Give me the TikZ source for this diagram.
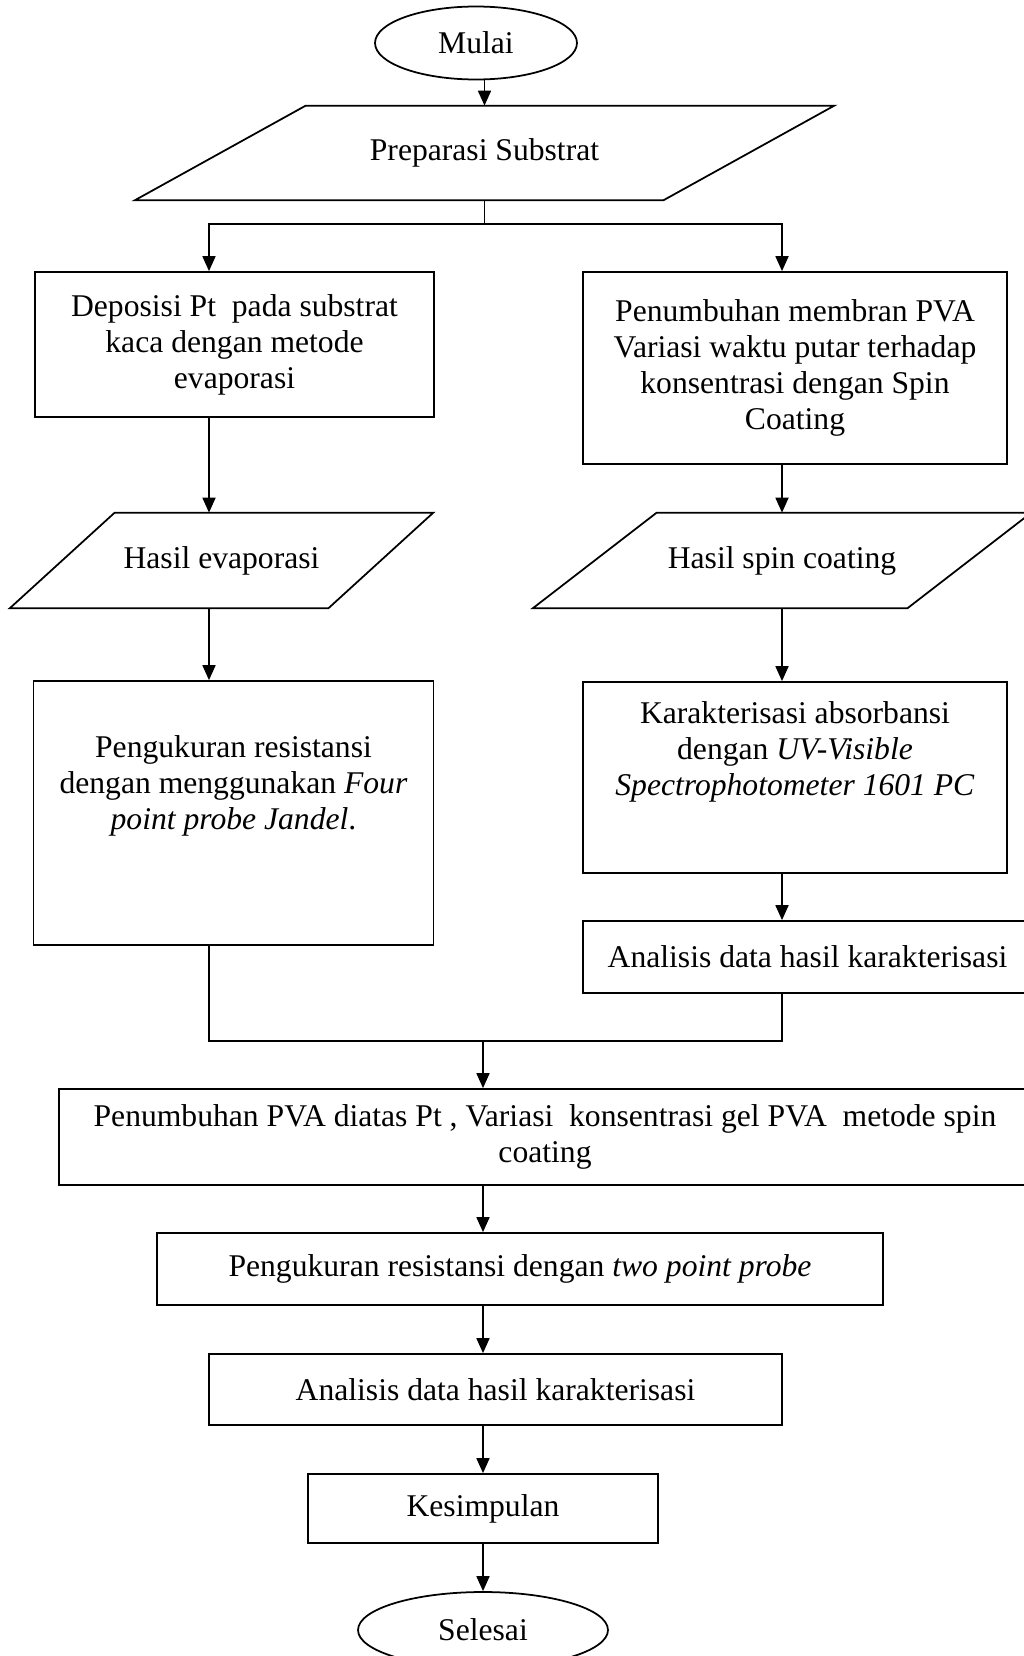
\documentclass[tikz,border=0pt]{standalone}
\usepackage{fontspec}
\setmainfont{Liberation Serif}
\usepackage{tikz}
\usetikzlibrary{arrows.meta,positioning,shapes.geometric}

\begin{document}
\begin{tikzpicture}[
    x=0.02cm, y=-0.02cm,
    txt/.style={align=center, inner sep=0pt, font=\fontsize{18}{20.5}\selectfont},
    procbox/.style={txt, rectangle, draw, line width=1pt},
    iobox/.style={txt, rectangle},
    termbox/.style={txt, ellipse, draw, line width=1pt},
    arr/.style={-{Triangle[length=3mm, width=2.6mm]}, line width=1pt},
    link/.style={line width=1pt},
]
\useasboundingbox (0,0) rectangle (1024,1656);

% column guides
\coordinate (colL) at (209,0);
\coordinate (colR) at (782,0);

% start
\node[termbox, minimum width=4.04cm, minimum height=1.46cm] (mulai) at (476,43) {Mulai};
\node[iobox, minimum width=10.56cm, minimum height=1.88cm] (prep) at (484.5,153) {Preparasi Substrat};
\draw[link] ([xshift=1.71cm]prep.north west) -- ([xshift=1.71cm]prep.north east)
    -- ([xshift=-1.71cm]prep.south east) -- ([xshift=-1.71cm]prep.south west) -- cycle;
\coordinate (split) at (484.5,224);

% left branch
\node[procbox, minimum width=7.98cm, minimum height=2.9cm] (dep) at (234.5,344.5)
    {Deposisi Pt\ \ pada substrat\\kaca dengan metode\\evaporasi};
\node[iobox, minimum width=6.36cm, minimum height=1.9cm] (hev) at (221.5,560.5) {Hasil evaporasi};
\draw[link] ([xshift=1.05cm]hev.north west) -- ([xshift=1.05cm]hev.north east)
    -- ([xshift=-1.05cm]hev.south east) -- ([xshift=-1.05cm]hev.south west) -- cycle;
\node[procbox, minimum width=8cm, minimum height=5.28cm] (ukur) at (233.5,813) {};
\node[txt] (ukurt) at (233.5,786)
    {Pengukuran resistansi\\dengan menggunakan \textit{Four}\\\textit{point probe Jandel}.};

% right branch
\node[procbox, minimum width=8.48cm, minimum height=3.84cm] (memb) at (795,368)
    {Penumbuhan membran PVA\\Variasi waktu putar terhadap\\konsentrasi dengan Spin\\Coating};
\node[iobox, minimum width=7.48cm, minimum height=1.9cm] (hsc) at (782,560.5) {Hasil spin coating};
\draw[link] ([xshift=1.24cm]hsc.north west) -- ([xshift=1.24cm]hsc.north east)
    -- ([xshift=-1.24cm]hsc.south east) -- ([xshift=-1.24cm]hsc.south west) -- cycle;
\node[procbox, minimum width=8.48cm, minimum height=3.82cm] (karak) at (795,777.5) {};
\node[txt] (karakt) at (795,752)
    {Karakterisasi absorbansi\\dengan \textit{UV-Visible}\\\textit{Spectrophotometer 1601 PC}};
\node[procbox, minimum width=8.98cm, minimum height=1.44cm] (anaR) at (807.5,957) {Analisis data hasil karakterisasi};
\coordinate (merge) at (483,1041);

% joint part
\node[procbox, minimum width=19.44cm, minimum height=1.92cm] (pva) at (545,1137)
    {Penumbuhan PVA diatas Pt , Variasi\ \ konsentrasi gel PVA\ \ metode spin\\coating};
\node[procbox, minimum width=14.52cm, minimum height=1.44cm] (two) at (520,1269)
    {Pengukuran resistansi dengan \textit{two point probe}};
\node[procbox, minimum width=11.46cm, minimum height=1.42cm] (anaB) at (495.5,1389.5) {Analisis data hasil karakterisasi};
\node[procbox, minimum width=7cm, minimum height=1.38cm] (kes) at (483,1508.5) {Kesimpulan};
\node[termbox, minimum width=5cm, minimum height=1.52cm] (selesai) at (483,1630) {Selesai};

% connectors
\draw[arr] (mulai.south -| prep.north) -- (prep.north);
\draw[link] (prep.south) -- (split);
\draw[arr] (split) -| (dep.north -| colL);
\draw[arr] (split) -| (memb.north -| colR);
\draw[arr] (dep.south -| colL) -- (hev.north -| colL);
\draw[arr] (hev.south -| colL) -- (ukur.north -| colL);
\draw[arr] (memb.south -| colR) -- (hsc.north -| colR);
\draw[arr] (hsc.south -| colR) -- (karak.north -| colR);
\draw[arr] (karak.south -| colR) -- (anaR.north -| colR);
\draw[link] (ukur.south -| colL) |- (merge) -| (anaR.south -| colR);
\draw[arr] (merge) -- (pva.north -| merge);
\draw[arr] (pva.south -| merge) -- (two.north -| merge);
\draw[arr] (two.south -| merge) -- (anaB.north -| merge);
\draw[arr] (anaB.south -| merge) -- (kes.north -| merge);
\draw[arr] (kes.south) -- (selesai.north);
\end{tikzpicture}
\end{document}
